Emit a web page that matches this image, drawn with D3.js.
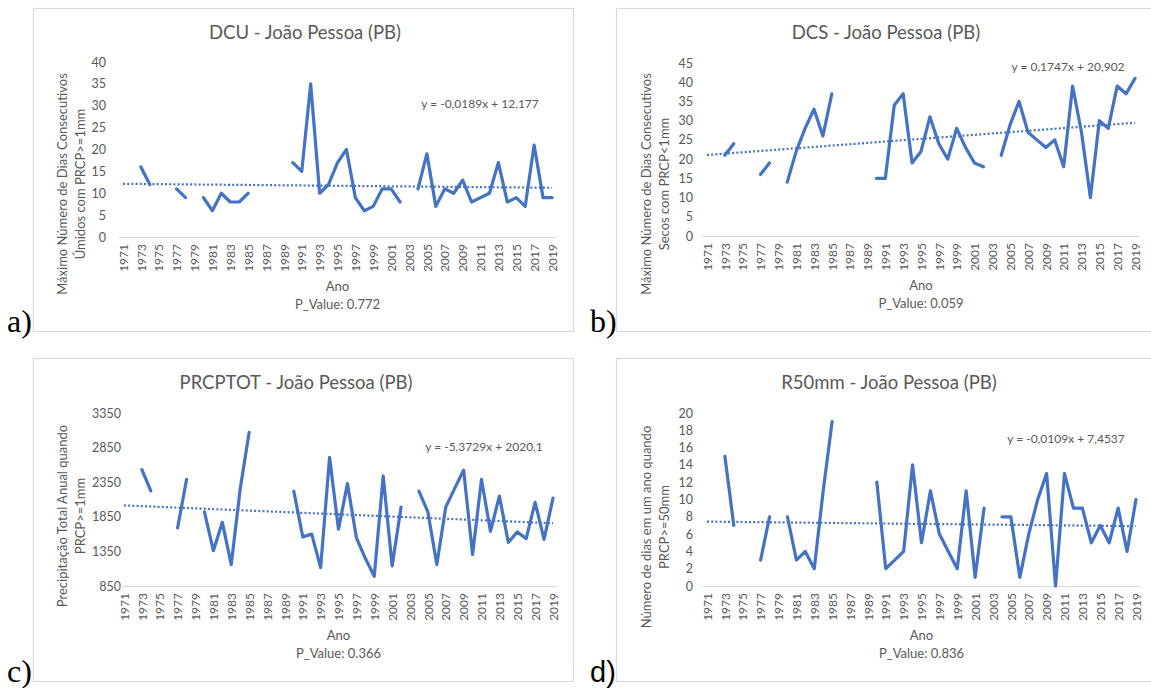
<!DOCTYPE html>
<meta charset="utf-8">
<style>
  body { margin: 0; background: #fff; }
  svg text { font-family: Lato, "Open Sans", sans-serif; fill: #595959; }
</style>
<body>

<script src="https://d3js.org/d3.v7.min.js"></script>
<script>

// categories (one point per year)
var years = d3.range(1971, 2020);

// series values, null where the year has no data
var dcu = [null, null, 16, 12, null, null, 11, 9, null, 9, 6, 10, 8, 8, 10,
  null, null, null, null, 17, 15, 35, 10, 12, 17, 20, 9, 6, 7, 11, 11, 8,
  null, 11, 19, 7, 11, 10, 13, 8, 9, 10, 17, 8, 9, 7, 21, 9, 9];

var dcs = [null, null, 21, 24, null, null, 16, 19, null, 14, 22, 28, 33, 26, 37,
  null, null, null, null, 15, 15, 34, 37, 19, 22, 31, 24, 20, 28, 23, 19, 18,
  null, 21, 29, 35, 27, 25, 23, 25, 18, 39, 27, 10, 30, 28, 39, 37, 41];

var prcptot = [null, null, 2530, 2225, null, null, 1690, 2390, null, 1920, 1360, 1770, 1160, 2250, 3070,
  null, null, null, null, 2220, 1560, 1600, 1115, 2710, 1670, 2330, 1550, 1250, 990, 2440, 1140, 1990,
  null, 2220, 1920, 1160, 1990, 2260, 2525, 1305, 2390, 1640, 2150, 1480, 1630, 1535, 2060, 1525, 2120];

var r50mm = [null, null, 15, 7, null, null, 3, 8, null, 8, 3, 4, 2, 11, 19,
  null, null, null, null, 12, 2, 3, 4, 14, 5, 11, 6, 4, 2, 11, 1, 9,
  null, 8, 8, 1, 6, 10, 13, 0, 13, 9, 9, 5, 7, 5, 9, 4, 10];

// y axis tick labels
var dcuTicks = [0, 5, 10, 15, 20, 25, 30, 35, 40];
var dcsTicks = [0, 5, 10, 15, 20, 25, 30, 35, 40, 45];
var prcptotTicks = [850, 1350, 1850, 2350, 2850, 3350];
var r50mmTicks = [0, 2, 4, 6, 8, 10, 12, 14, 16, 18, 20];

// linear trend printed on each chart: [slope, intercept], x = 1..49
var dcuTrend = [-0.0189, 12.177];
var dcsTrend = [0.1747, 20.902];
var prcptotTrend = [-5.3729, 2020.1];
var r50mmTrend = [-0.0109, 7.4537];

var trendLabels = ["y = -0,0189x + 12,177", "y = 0,1747x + 20,902",
  "y = -5,3729x + 2020,1", "y = -0,0109x + 7,4537"];
var pValues = ["0.772", "0.059", "0.366", "0.836"];
var titles = ["DCU - João Pessoa (PB)", "DCS - João Pessoa (PB)",
  "PRCPTOT - João Pessoa (PB)", "R50mm - João Pessoa (PB)"];
var yTitles = [
  ["Máximo Número de Dias Consecutivos", "Úmidos com PRCP>=1mm"],
  ["Máximo Número de Dias Consecutivos", "Secos com PRCP<1mm"],
  ["Precipitação Total Anual quando", "PRCP>=1mm"],
  ["Número de dias em um ano quando", "PRCP>=50mm"]
];
var panelLetters = ["a)", "b)", "c)", "d)"];

var blue = "#4472C4";

var svg = d3.select("body").append("svg")
    .attr("width", 1151)
    .attr("height", 688);

// layout of the four panels (pixels)
var panels = [
  {values: dcu, ticks: dcuTicks, trend: dcuTrend,
   box: [33, 8, 540, 323], x0: 123, x1: 552, y0: 237, y1: 62,
   yLab: 106, yTitleX: 62, yTitleY: 184, titleX: 305, titleY: 33,
   eqX: 480, eqY: 104, letterX: 7, letterY: 332, serif: true},
  {values: dcs, ticks: dcsTicks, trend: dcsTrend,
   box: [616, 8, 545, 323], x0: 707, x1: 1135, y0: 236, y1: 63,
   yLab: 693, yTitleX: 646, yTitleY: 184, titleX: 886, titleY: 33,
   eqX: 1068, eqY: 67, letterX: 590, letterY: 332, serif: true},
  {values: prcptot, ticks: prcptotTicks, trend: prcptotTrend,
   box: [33, 358, 540, 323], x0: 124, x1: 553, y0: 586, y1: 413,
   yLab: 121, yTitleX: 62, yTitleY: 516, titleX: 296, titleY: 383,
   eqX: 484, eqY: 447, letterX: 7, letterY: 682, serif: true},
  {values: r50mm, ticks: r50mmTicks, trend: r50mmTrend,
   box: [616, 358, 545, 323], x0: 707, x1: 1136, y0: 586, y1: 413,
   yLab: 693, yTitleX: 646, yTitleY: 527, titleX: 889, titleY: 383,
   eqX: 1066, eqY: 439, letterX: 590, letterY: 682, serif: false}
];

panels.forEach(function(p, k) {
  var g = svg.append("g");

  // chart frame
  g.append("rect")
      .attr("x", p.box[0] + 0.5)
      .attr("y", p.box[1] + 0.5)
      .attr("width", p.box[2])
      .attr("height", p.box[3])
      .attr("fill", "none")
      .attr("stroke", "#d9d9d9")
      .attr("stroke-width", 1.2);

  // scales
  var x = d3.scalePoint().domain(years).range([p.x0, p.x1]);
  var y = d3.scaleLinear()
      .domain([p.ticks[0], p.ticks[p.ticks.length - 1]])
      .range([p.y0, p.y1]);

  // y tick labels only (no axis line)
  var yAxis = g.append("g")
      .attr("transform", "translate(" + p.yLab + ",0)")
      .call(d3.axisLeft(y).tickValues(p.ticks).tickFormat(d3.format("d"))
        .tickSize(0).tickPadding(0));
  yAxis.select(".domain").remove();
  yAxis.selectAll("text")
      .attr("font-size", 12.5)
      .attr("font-family", "Lato")
      .style("fill", "#595959");

  // x axis: line spans full category bands
  var half = x.step() / 2;
  g.append("line")
      .attr("x1", p.x0 - half).attr("x2", p.x1 + half)
      .attr("y1", p.y0 + 0.5).attr("y2", p.y0 + 0.5)
      .attr("stroke", "#d9d9d9")
      .attr("stroke-width", 1.2);

  var xAxis = g.append("g")
      .attr("transform", "translate(0," + p.y0 + ")")
      .call(d3.axisBottom(x)
        .tickValues(years.filter(function(d, i) { return i % 2 === 0; }))
        .tickSize(0));
  xAxis.select(".domain").remove();
  xAxis.selectAll("text")
      .attr("transform", "rotate(-90)")
      .attr("text-anchor", "end")
      .attr("x", -7)
      .attr("y", 0)
      .attr("dy", "0.35em")
      .attr("font-size", 12)
      .attr("font-family", "Lato")
      .style("fill", "#595959");

  // trend line (dotted)
  var n = years.length;
  g.append("line")
      .attr("x1", x(years[0]))
      .attr("x2", x(years[n - 1]))
      .attr("y1", y(p.trend[0] * 1 + p.trend[1]))
      .attr("y2", y(p.trend[0] * n + p.trend[1]))
      .attr("stroke", blue)
      .attr("stroke-width", 2.2)
      .attr("stroke-dasharray", "2,2.2");

  // data line, broken where a year is missing
  var line = d3.line()
      .defined(function(d) { return d != null; })
      .x(function(d, i) { return x(years[i]); })
      .y(function(d) { return y(d); });

  g.append("path")
      .datum(p.values)
      .attr("d", line)
      .attr("fill", "none")
      .attr("stroke", blue)
      .attr("stroke-width", 3.2)
      .attr("stroke-linejoin", "round")
      .attr("stroke-linecap", "round");

  // title
  g.append("text")
      .attr("x", p.titleX)
      .attr("y", p.titleY)
      .attr("dy", "0.35em")
      .attr("text-anchor", "middle")
      .attr("font-size", 18.5)
      .text(titles[k]);

  // trend equation
  g.append("text")
      .attr("x", p.eqX)
      .attr("y", p.eqY)
      .attr("dy", "0.35em")
      .attr("text-anchor", "middle")
      .attr("font-size", 12)
      .text(trendLabels[k]);

  // y axis title, two lines
  var yt = g.append("text")
      .attr("transform", "translate(" + p.yTitleX + "," + p.yTitleY + ") rotate(-90)")
      .attr("text-anchor", "middle")
      .attr("font-size", 13);
  yt.append("tspan").attr("x", 0).attr("dy", "0.35em").text(yTitles[k][0]);
  yt.append("tspan").attr("x", 0).attr("dy", "1.45em").text(yTitles[k][1]);

  // x axis title and p-value
  var cx = (p.x0 + p.x1) / 2;
  g.append("text")
      .attr("x", cx)
      .attr("y", p.y0 + 49)
      .attr("dy", "0.35em")
      .attr("text-anchor", "middle")
      .attr("font-size", 13)
      .text("Ano");
  g.append("text")
      .attr("x", cx)
      .attr("y", p.y0 + 67)
      .attr("dy", "0.35em")
      .attr("text-anchor", "middle")
      .attr("font-size", 13)
      .text("P_Value: " + pValues[k]);

  // panel letter
  svg.append("text")
      .attr("x", p.letterX)
      .attr("y", p.letterY)
      .attr("font-size", p.serif ? 32 : 29)
      .style("font-family", p.serif ? "'Liberation Serif', serif" : "'Liberation Sans', sans-serif")
      .style("fill", "#000")
      .text(panelLetters[k]);
});

</script>
</body>
